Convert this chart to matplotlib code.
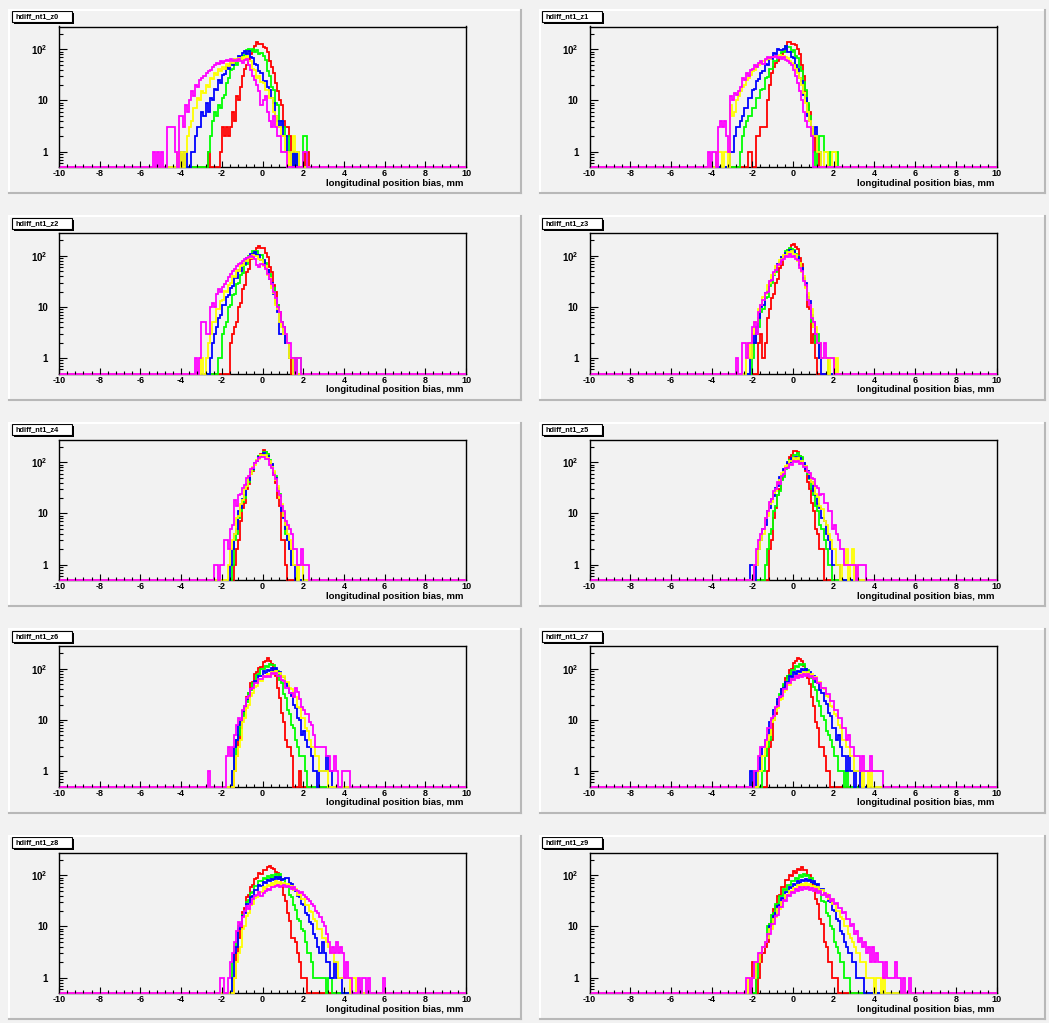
import numpy as np
import matplotlib.pyplot as plt
from matplotlib.patches import Rectangle
from matplotlib.ticker import MultipleLocator, FixedLocator, NullFormatter

plt.rcParams['font.family'] = ['Liberation Sans', 'DejaVu Sans']
plt.rcParams['axes.unicode_minus'] = False
plt.rcParams['mathtext.fontset'] = 'custom'
plt.rcParams['mathtext.rm'] = 'Liberation Sans'
plt.rcParams['mathtext.bf'] = 'Liberation Sans:bold'

# histogram contents, 0.1 mm bins, listed from the left edge "lo" of the first filled bin
# order in every pad: red, green, blue, yellow, magenta
z0_lo = [-2.7, -2.7, -4.0, -4.2, -5.4]
z0_red = [1, 0, 0, 0, 0, 0, 1, 3, 2, 3, 2, 3, 6, 4, 12, 10, 18, 30, 42, 50, 66, 82, 95, 118, 140, 125, 128, 110, 105, 88, 60, 45, 35, 22, 15, 10, 8, 4, 3, 3, 2, 1, 1, 0, 0, 0, 0, 0, 1, 1]
z0_green = [1, 2, 4, 6, 5, 8, 7, 11, 13, 22, 27, 40, 42, 55, 50, 66, 65, 75, 78, 98, 102, 92, 100, 90, 95, 82, 86, 75, 62, 38, 30, 18, 16, 9, 8, 4, 4, 3, 2, 2, 1, 1, 0, 1, 0, 0, 0, 2, 2]
z0_blue = [1, 0, 1, 0, 0, 1, 1, 2, 3, 3, 6, 5, 9, 6, 11, 10, 17, 16, 25, 22, 32, 33, 45, 42, 55, 50, 66, 62, 75, 70, 85, 92, 80, 92, 72, 68, 52, 50, 38, 34, 24, 24, 18, 16, 11, 9, 5, 4, 3, 4, 2, 2, 1, 1, 0, 1, 0, 1]
z0_yellow = [1, 0, 1, 0, 1, 2, 3, 4, 7, 7, 11, 10, 15, 14, 20, 18, 27, 26, 35, 32, 41, 37, 45, 42, 52, 48, 58, 54, 64, 58, 68, 60, 72, 62, 74, 58, 58, 42, 40, 28, 30, 23, 22, 16, 16, 11, 11, 6, 5, 3, 3, 2, 2, 1, 1, 0, 1, 2, 1, 1]
z0_magenta = [1, 0, 1, 0, 1, 0, 0, 3, 3, 3, 3, 1, 0, 5, 5, 3, 8, 6, 10, 15, 12, 20, 18, 25, 28, 30, 35, 38, 40, 45, 50, 55, 52, 58, 55, 60, 62, 58, 65, 60, 62, 58, 65, 60, 55, 62, 65, 50, 40, 30, 25, 20, 15, 8, 10, 12, 6, 4, 3, 5, 3, 2, 2, 1, 1, 1, 0, 0, 0, 0, 0, 0, 0, 0, 1, 1]

z1_lo = [-2.2, -2.6, -3.1, -3.8, -4.2]
z1_red = [1, 1, 0, 0, 2, 2, 3, 3, 3, 10, 20, 35, 45, 55, 60, 70, 80, 90, 100, 140, 140, 130, 125, 120, 100, 80, 50, 30, 15, 8, 6, 3, 2, 1, 1]
z1_green = [1, 2, 3, 4, 5, 5, 7, 7, 11, 11, 16, 17, 27, 29, 41, 42, 58, 58, 74, 70, 90, 90, 115, 110, 110, 90, 95, 75, 68, 46, 37, 23, 16, 9, 5, 2, 1, 0, 1, 2, 2, 1, 1, 0, 1, 1, 1, 1]
z1_blue = [1, 1, 2, 3, 3, 4, 5, 7, 7, 11, 11, 16, 17, 24, 26, 35, 37, 52, 50, 66, 66, 85, 80, 100, 95, 95, 100, 115, 90, 88, 70, 68, 50, 42, 28, 24, 13, 11, 5, 4, 3, 2, 3, 1, 1]
z1_yellow = [1, 1, 1, 0, 1, 1, 0, 8, 5, 6, 10, 12, 15, 18, 20, 25, 28, 32, 38, 40, 45, 50, 55, 58, 62, 68, 65, 70, 72, 75, 70, 78, 72, 75, 70, 68, 60, 55, 50, 42, 35, 28, 20, 14, 9, 6, 4, 3, 2, 2, 1, 1, 0, 1, 1, 0, 0, 1, 1]
z1_magenta = [1, 0, 1, 1, 0, 3, 4, 3, 4, 2, 1, 12, 10, 14, 13, 15, 18, 28, 25, 35, 30, 40, 42, 50, 45, 55, 60, 52, 65, 70, 68, 72, 70, 75, 68, 72, 65, 70, 62, 58, 55, 50, 40, 30, 22, 15, 10, 6, 4, 3, 3, 2]

z2_lo = [-1.6, -2.2, -2.6, -3.0, -3.3]
z2_red = [2, 3, 4, 5, 10, 12, 22, 27, 48, 55, 86, 92, 125, 140, 155, 145, 145, 115, 95, 60, 48, 27, 20, 11, 8, 5, 3, 2, 2, 1, 0, 1, 1]
z2_green = [1, 1, 3, 4, 5, 10, 11, 17, 18, 28, 30, 43, 46, 66, 70, 100, 104, 125, 110, 122, 105, 104, 80, 74, 52, 45, 28, 24, 12, 11, 6, 5, 3, 2, 2, 1, 1, 1, 0, 1, 1]
z2_blue = [1, 2, 3, 4, 6, 7, 11, 11, 16, 17, 24, 26, 38, 37, 52, 51, 70, 70, 90, 90, 110, 105, 120, 104, 104, 84, 82, 60, 53, 35, 30, 18, 15, 8, 3, 3, 4, 2, 2, 1, 1]
z2_yellow = [1, 0, 1, 2, 3, 5, 5, 9, 9, 13, 14, 21, 20, 27, 30, 41, 39, 52, 51, 64, 66, 80, 80, 95, 90, 105, 100, 100, 85, 84, 64, 62, 42, 37, 23, 19, 11, 9, 5, 4, 3, 3, 2, 1, 1]
z2_magenta = [1, 0, 1, 5, 5, 3, 3, 10, 12, 10, 18, 22, 20, 25, 28, 32, 38, 45, 50, 55, 62, 68, 72, 80, 85, 90, 95, 100, 95, 85, 65, 60, 70, 65, 55, 45, 35, 28, 20, 15, 10, 8, 5, 4, 3, 2, 2, 1, 1, 0, 1, 1]

z3_lo = [-1.7, -2.0, -2.1, -2.3, -2.8]
z3_red = [2, 3, 1, 2, 6, 9, 15, 18, 30, 36, 58, 66, 98, 105, 130, 135, 165, 170, 150, 135, 90, 68, 36, 25, 10, 9, 2, 3, 1]
z3_green = [1, 2, 3, 4, 8, 9, 15, 16, 26, 30, 42, 48, 66, 72, 95, 100, 125, 128, 140, 135, 132, 110, 100, 70, 58, 35, 27, 14, 11, 5, 4, 2, 3, 1, 1, 1, 1]
z3_blue = [1, 3, 2, 4, 6, 10, 11, 19, 21, 30, 33, 47, 52, 68, 75, 94, 96, 115, 118, 132, 122, 124, 105, 94, 66, 58, 37, 30, 16, 13, 7, 5, 3, 2, 1]
z3_yellow = [1, 2, 1, 3, 5, 5, 9, 11, 16, 18, 27, 30, 42, 45, 62, 64, 84, 86, 104, 104, 118, 116, 122, 108, 104, 80, 72, 48, 40, 24, 19, 11, 9, 4, 4, 2, 2, 1, 1, 1, 0, 1, 1, 0, 1]
z3_magenta = [1, 0, 0, 2, 2, 1, 2, 2, 4, 5, 3, 8, 11, 14, 19, 20, 32, 33, 48, 52, 66, 70, 84, 85, 98, 96, 108, 96, 98, 86, 82, 58, 50, 32, 27, 14, 11, 6, 5, 3, 2, 2, 1, 2, 1, 1, 1, 1]

z4_lo = [-1.4, -1.5, -1.6, -1.7, -2.4]
z4_red = [1, 2, 3, 7, 13, 16, 30, 37, 58, 68, 95, 105, 135, 145, 178, 158, 145, 105, 88, 56, 40, 20, 14, 3, 3, 1]
z4_green = [1, 3, 4, 8, 11, 17, 20, 34, 42, 62, 70, 99, 110, 135, 140, 160, 158, 145, 110, 94, 64, 53, 32, 24, 13, 10, 4, 3, 2, 1, 1, 1]
z4_blue = [1, 2, 4, 5, 11, 13, 19, 23, 37, 45, 64, 74, 99, 105, 130, 135, 155, 140, 135, 105, 92, 62, 50, 30, 21, 11, 8, 5, 3, 2, 1, 1]
z4_yellow = [1, 2, 3, 4, 8, 9, 15, 18, 30, 35, 53, 58, 82, 88, 112, 116, 138, 136, 140, 120, 108, 80, 68, 45, 35, 20, 15, 9, 6, 4, 3, 2, 1, 1, 0, 1, 1]
z4_magenta = [1, 1, 0, 1, 1, 3, 3, 2, 5, 6, 18, 14, 23, 24, 32, 36, 50, 55, 73, 78, 98, 105, 124, 126, 130, 115, 114, 90, 78, 56, 47, 28, 23, 14, 11, 7, 6, 5, 4, 2, 2, 1, 1, 2, 1, 1, 1]

z5_lo = [-1.2, -1.4, -2.1, -1.9, -1.9]
z5_red = [2, 3, 8, 13, 23, 30, 47, 56, 82, 93, 125, 140, 170, 165, 162, 135, 120, 85, 68, 42, 30, 16, 11, 5, 4, 2, 2]
z5_green = [1, 2, 4, 5, 11, 14, 23, 28, 45, 52, 74, 84, 110, 115, 140, 140, 155, 135, 125, 95, 84, 58, 47, 30, 23, 14, 11, 6, 5, 3, 2, 1, 1]
z5_blue = [1, 1, 0, 1, 2, 3, 5, 6, 11, 13, 19, 22, 32, 35, 51, 55, 74, 78, 100, 100, 120, 115, 130, 115, 120, 100, 96, 74, 68, 49, 42, 28, 23, 15, 13, 8, 7, 4, 3, 2, 1, 1, 1, 1]
z5_yellow = [1, 1, 2, 3, 4, 8, 9, 15, 17, 25, 28, 40, 45, 61, 64, 84, 88, 104, 105, 120, 112, 120, 105, 104, 86, 83, 64, 58, 42, 37, 24, 21, 14, 12, 7, 6, 4, 3, 2, 2, 1, 1, 0, 1, 1, 2, 0, 1, 2, 0, 1]
z5_magenta = [1, 2, 3, 4, 5, 8, 11, 17, 19, 27, 30, 42, 38, 53, 58, 76, 76, 92, 90, 104, 100, 104, 94, 96, 80, 82, 66, 63, 49, 47, 35, 32, 23, 24, 16, 16, 11, 11, 5, 6, 4, 3, 2, 2, 1, 1, 1, 1, 1, 1, 0, 1, 1, 1, 1]

z6_lo = [-1.4, -1.5, -1.5, -1.4, -2.7]
z6_red = [1, 2, 4, 7, 13, 16, 28, 33, 52, 56, 80, 85, 105, 110, 136, 145, 165, 140, 125, 90, 74, 42, 27, 14, 9, 4, 3, 3, 2, 0, 0, 0, 1]
z6_green = [1, 2, 4, 5, 10, 12, 19, 22, 34, 38, 54, 56, 76, 80, 100, 100, 116, 110, 126, 120, 120, 95, 90, 60, 53, 32, 27, 16, 13, 8, 7, 4, 3, 2, 2, 2, 1]
z6_blue = [1, 3, 4, 8, 9, 15, 17, 26, 28, 40, 43, 58, 58, 74, 74, 90, 84, 96, 90, 104, 90, 104, 86, 88, 70, 68, 52, 47, 33, 30, 20, 17, 11, 10, 5, 6, 4, 3, 3, 2, 1, 1, 0, 1, 1, 1, 2, 1, 1]
z6_yellow = [1, 2, 3, 4, 9, 11, 17, 20, 30, 33, 45, 47, 60, 58, 72, 68, 80, 76, 86, 80, 92, 82, 84, 70, 72, 56, 55, 42, 40, 30, 28, 18, 17, 11, 11, 7, 6, 4, 3, 3, 2, 2, 1, 1, 1, 1]
z6_magenta = [1, 0, 0, 0, 0, 0, 0, 0, 0, 2, 3, 2, 3, 5, 8, 11, 10, 16, 19, 27, 30, 40, 43, 53, 52, 64, 62, 74, 68, 72, 70, 84, 80, 84, 72, 74, 60, 58, 42, 42, 33, 34, 28, 42, 36, 26, 18, 16, 13, 13, 9, 8, 5, 3, 3, 3, 3, 3, 2, 2, 1, 1, 2, 1, 0, 0, 1, 1, 1, 1]

z7_lo = [-1.3, -1.5, -2.1, -1.7, -1.9]
z7_red = [1, 3, 4, 10, 13, 22, 26, 41, 47, 66, 71, 95, 100, 130, 140, 160, 155, 145, 115, 100, 66, 50, 28, 19, 9, 7, 3, 3, 2, 1, 1]
z7_green = [1, 2, 3, 4, 9, 11, 17, 20, 32, 35, 51, 54, 74, 76, 96, 96, 112, 110, 126, 118, 122, 100, 96, 72, 66, 44, 38, 24, 19, 12, 10, 6, 5, 4, 3, 2, 2, 1, 1, 1, 0, 1]
z7_blue = [1, 0, 1, 0, 1, 2, 3, 4, 5, 9, 10, 16, 17, 26, 28, 40, 42, 56, 56, 72, 70, 85, 80, 92, 88, 100, 92, 98, 86, 88, 74, 73, 56, 52, 38, 34, 23, 21, 14, 12, 7, 7, 4, 5, 3, 2, 2, 1, 2, 1, 1, 0, 1, 1]
z7_yellow = [1, 1, 2, 3, 4, 5, 9, 10, 15, 17, 25, 26, 36, 38, 49, 49, 62, 60, 72, 68, 80, 76, 86, 80, 86, 76, 80, 68, 70, 56, 55, 42, 40, 30, 28, 19, 18, 13, 12, 8, 7, 4, 4, 3, 3, 2, 2, 1, 1, 1, 1, 0, 1, 1, 0, 1]
z7_magenta = [1, 1, 2, 3, 3, 4, 7, 7, 11, 12, 18, 19, 28, 30, 40, 41, 53, 52, 63, 60, 72, 66, 76, 70, 79, 74, 78, 68, 74, 62, 65, 52, 53, 42, 42, 32, 32, 24, 23, 16, 16, 11, 11, 7, 7, 4, 5, 3, 3, 2, 2, 2, 1, 2, 1, 1, 1, 2, 1, 1, 1, 1, 1]

z8_lo = [-1.4, -1.5, -1.5, -1.4, -2.1]
z8_red = [1, 3, 6, 9, 19, 23, 37, 42, 58, 64, 85, 90, 110, 108, 130, 125, 145, 150, 140, 135, 115, 112, 85, 68, 42, 32, 18, 13, 6, 6, 5, 3, 2, 1, 1, 1]
z8_green = [2, 4, 5, 10, 11, 17, 20, 30, 33, 45, 47, 62, 61, 76, 76, 90, 86, 96, 90, 102, 90, 104, 94, 106, 86, 84, 66, 58, 42, 37, 26, 21, 14, 13, 9, 8, 5, 3, 3, 2, 1, 1, 1, 1, 1, 1, 0, 1, 1]
z8_blue = [1, 3, 4, 9, 11, 16, 18, 27, 28, 38, 40, 51, 52, 64, 62, 74, 70, 82, 76, 86, 82, 92, 86, 92, 80, 86, 88, 88, 72, 68, 52, 50, 40, 37, 28, 26, 18, 17, 12, 11, 7, 6, 4, 3, 5, 3, 2, 2, 1, 1, 2, 1, 1, 1]
z8_yellow = [1, 2, 3, 4, 9, 10, 16, 18, 26, 27, 36, 38, 48, 47, 58, 55, 65, 62, 72, 66, 76, 66, 75, 66, 72, 66, 68, 58, 61, 52, 53, 42, 42, 34, 34, 26, 26, 20, 19, 14, 13, 9, 9, 6, 6, 5, 4, 3, 3, 2, 2, 1, 1, 1, 1, 1, 1, 0, 1, 1]
z8_magenta = [1, 1, 0, 0, 1, 2, 3, 5, 8, 12, 10, 15, 20, 25, 22, 28, 35, 40, 42, 48, 40, 45, 50, 55, 52, 60, 58, 62, 65, 60, 62, 65, 60, 62, 58, 55, 60, 52, 50, 45, 48, 42, 38, 35, 32, 28, 25, 20, 18, 15, 12, 10, 7, 5, 3, 4, 3, 5, 3, 4, 3, 1, 2, 1, 1, 0, 0, 0, 1, 0, 1, 1, 0, 1, 0, 0, 0, 0, 0, 0, 1]

z9_lo = [-2.0, -1.8, -2.0, -2.2, -2.3]
z9_red = [2, 1, 0, 1, 2, 3, 4, 5, 11, 13, 22, 25, 39, 41, 59, 60, 80, 80, 100, 98, 122, 112, 135, 128, 145, 125, 125, 100, 100, 68, 58, 34, 27, 14, 11, 5, 4, 2, 2, 1, 1, 1]
z9_green = [1, 2, 3, 4, 5, 10, 11, 17, 18, 27, 28, 39, 39, 54, 52, 66, 64, 78, 76, 90, 86, 100, 94, 104, 96, 100, 86, 90, 70, 68, 50, 48, 32, 30, 18, 16, 10, 9, 5, 4, 3, 2, 2, 1, 1, 1]
z9_blue = [1, 1, 2, 2, 3, 4, 5, 6, 10, 11, 16, 18, 25, 26, 36, 35, 47, 47, 59, 56, 68, 64, 76, 71, 82, 76, 86, 76, 82, 71, 76, 64, 68, 54, 55, 43, 42, 31, 30, 21, 20, 14, 13, 8, 7, 5, 4, 3, 3, 2, 2, 1, 1, 1, 1]
z9_yellow = [1, 0, 1, 1, 2, 2, 3, 4, 5, 6, 9, 9, 14, 15, 22, 22, 30, 31, 41, 39, 49, 47, 57, 54, 64, 58, 68, 61, 70, 61, 68, 58, 63, 54, 58, 49, 51, 42, 44, 35, 35, 27, 27, 20, 20, 15, 14, 10, 10, 7, 6, 5, 4, 3, 3, 2, 2, 2, 1, 1, 1, 1, 0, 1, 1, 0, 1]
z9_magenta = [1, 1, 0, 1, 2, 2, 3, 3, 4, 5, 7, 7, 11, 11, 16, 17, 24, 24, 33, 31, 41, 39, 48, 45, 54, 49, 58, 52, 60, 55, 60, 52, 57, 49, 53, 45, 49, 41, 45, 37, 41, 32, 34, 27, 29, 23, 23, 18, 19, 14, 14, 10, 11, 7, 8, 5, 6, 4, 5, 3, 4, 2, 4, 2, 3, 2, 2, 1, 2, 1, 1, 1, 1, 2, 1, 1, 0, 1, 0, 0, 1]

pad_names = ['hdiff_nt1_z%d' % i for i in range(10)]
line_colors = ['#ff0000', '#00ff00', '#0000ff', '#ffff00', '#ff00ff']

W, H = 1049, 1023
YMIN, YMAX = 0.5, 280
BG = '#f2f2f2'

pads = [
    (z0_lo, [z0_red, z0_green, z0_blue, z0_yellow, z0_magenta]),
    (z1_lo, [z1_red, z1_green, z1_blue, z1_yellow, z1_magenta]),
    (z2_lo, [z2_red, z2_green, z2_blue, z2_yellow, z2_magenta]),
    (z3_lo, [z3_red, z3_green, z3_blue, z3_yellow, z3_magenta]),
    (z4_lo, [z4_red, z4_green, z4_blue, z4_yellow, z4_magenta]),
    (z5_lo, [z5_red, z5_green, z5_blue, z5_yellow, z5_magenta]),
    (z6_lo, [z6_red, z6_green, z6_blue, z6_yellow, z6_magenta]),
    (z7_lo, [z7_red, z7_green, z7_blue, z7_yellow, z7_magenta]),
    (z8_lo, [z8_red, z8_green, z8_blue, z8_yellow, z8_magenta]),
    (z9_lo, [z9_red, z9_green, z9_blue, z9_yellow, z9_magenta]),
]

edges = np.linspace(-10, 10, 201)


def full_hist(lo, counts):
    h = np.zeros(200)
    i = int(round((lo + 10) / 0.1))
    h[i:i + len(counts)] = counts
    return h


fig = plt.figure(figsize=(W / 100, H / 100), dpi=100, facecolor=BG)
bg = fig.add_axes([0, 0, 1, 1], zorder=0)
bg.set_xlim(0, W)
bg.set_ylim(H, 0)
bg.axis('off')

ymin_ticks = [0.6, 0.7, 0.8, 0.9] + [m * d for d in (1, 10) for m in range(2, 10)] + [200]

for k, (lo, series) in enumerate(pads):
    col, row = k % 2, k // 2
    dy = row * 206.5

    # pad with bevel border
    px0, px1 = (9, 521) if col == 0 else (540, 1045)
    py0, py1 = 9.5 + dy, 193 + dy
    bg.add_patch(Rectangle((px0, py0), px1 - px0, py1 - py0, facecolor=BG, edgecolor='none'))
    bg.plot([px0, px1], [py0, py0], color='white', lw=1.5)
    bg.plot([px0, px0], [py0, py1], color='white', lw=1.5)
    bg.plot([px0, px1], [py1, py1], color='#b8b8b8', lw=1.5)
    bg.plot([px1, px1], [py0, py1], color='#b8b8b8', lw=1.5)

    # title box with shadow
    tx0 = 12 if col == 0 else 542
    ty0 = 11 + dy
    bg.add_patch(Rectangle((tx0 + 2, ty0 + 2), 60, 11, facecolor='black', edgecolor='none'))
    bg.add_patch(Rectangle((tx0, ty0), 60, 11, facecolor='white', edgecolor='black', lw=0.8))
    bg.text(tx0 + 3, ty0 + 5.8, pad_names[k], fontsize=5.3, fontweight='bold', va='center', ha='left')

    # frame
    fx0, fx1 = (59, 466) if col == 0 else (589.5, 996.5)
    fy0, fy1 = 26.5 + dy, 167 + dy
    ax = fig.add_axes([fx0 / W, 1 - fy1 / H, (fx1 - fx0) / W, (fy1 - fy0) / H], zorder=2)
    ax.set_facecolor(BG)
    ax.set_yscale('log')
    ax.set_xlim(-10, 10)
    ax.set_ylim(YMIN, YMAX)

    for c, (start, counts) in enumerate(zip(lo, series)):
        h = full_hist(start, counts)
        ax.stairs(np.where(h > 0, h, YMIN), edges, baseline=None,
                  color=line_colors[c], lw=1.3, clip_on=False, zorder=2.6)

    for s in ax.spines.values():
        s.set_linewidth(1.0)
        s.set_color('black')

    ax.xaxis.set_minor_locator(MultipleLocator(0.4))
    ax.set_xticks(np.arange(-10, 11, 2))
    ax.set_xticklabels([str(v) for v in range(-10, 11, 2)], fontsize=6.5, fontweight='bold')
    ax.tick_params(axis='x', which='major', direction='in', length=4, width=0.8, pad=1.5)
    ax.tick_params(axis='x', which='minor', direction='in', length=2, width=0.8)

    ax.set_yticks([1, 10, 100])
    ax.set_yticklabels(['1', '10', r'$\mathbf{10^{2}}$'], fontsize=7, fontweight='bold')
    ax.yaxis.set_minor_locator(FixedLocator(ymin_ticks))
    ax.yaxis.set_minor_formatter(NullFormatter())
    ax.tick_params(axis='y', which='major', direction='in', length=6, width=0.8, pad=8)
    ax.tick_params(axis='y', which='minor', direction='in', length=3, width=0.8)
    ax.xaxis.set_zorder(3)
    ax.yaxis.set_zorder(3)

    ax.text(0.995, -0.115, 'longitudinal position bias, mm', transform=ax.transAxes,
            ha='right', va='center', fontsize=6.8, fontweight='bold')

fig.savefig('out.png', dpi=100, facecolor=BG)
